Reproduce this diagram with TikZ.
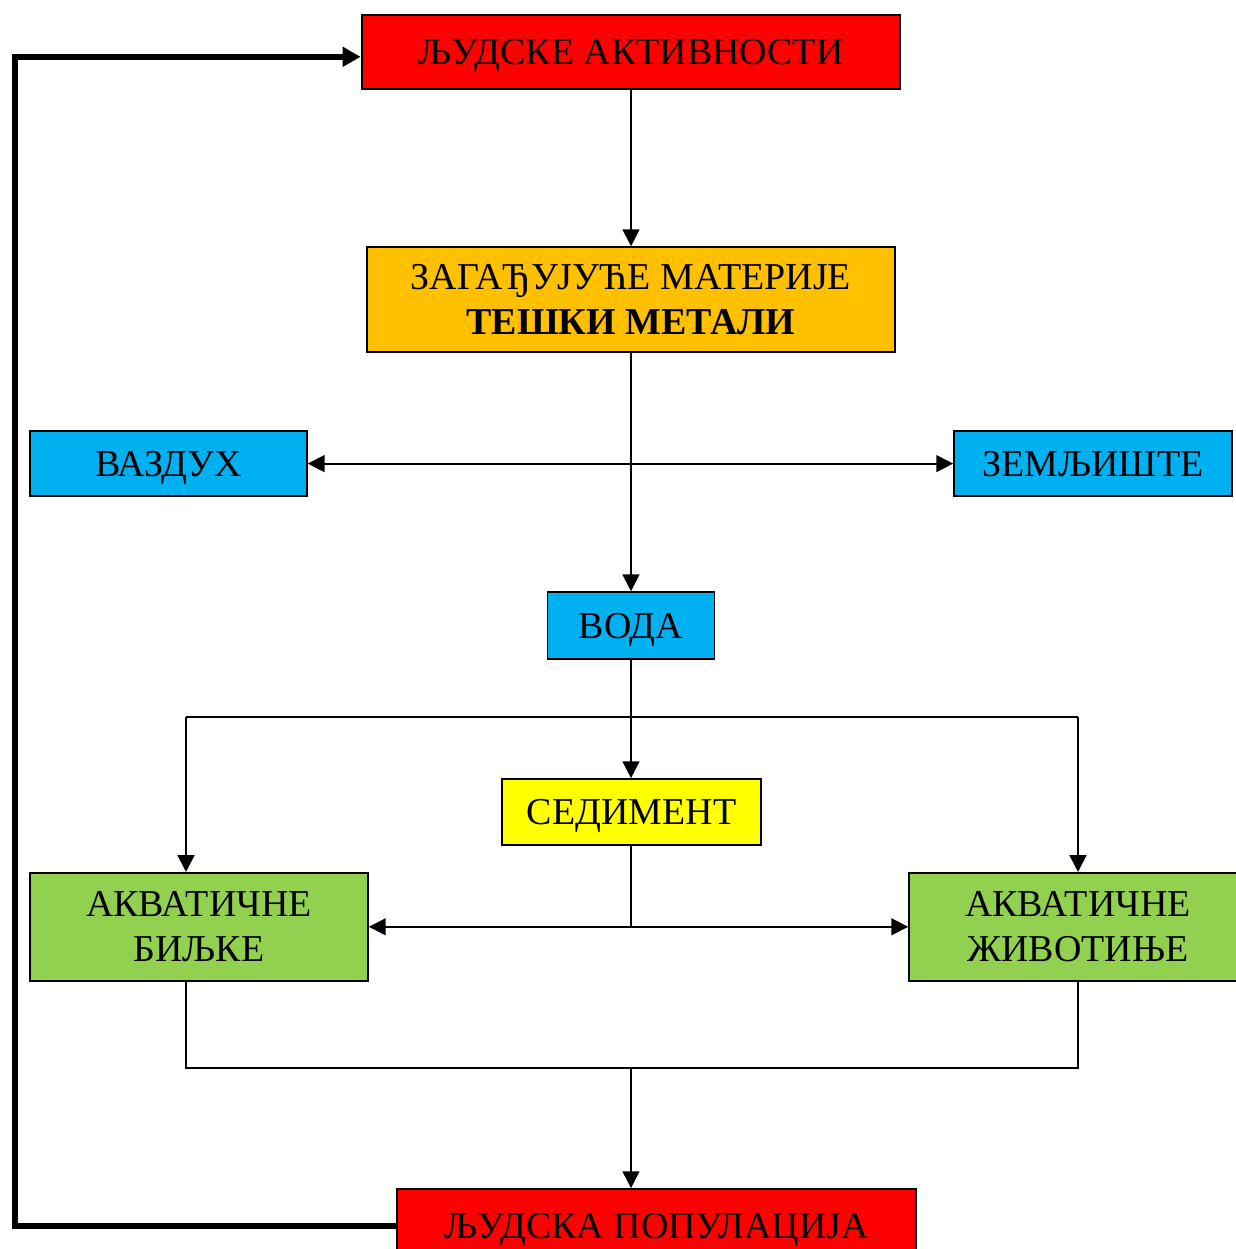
\documentclass[tikz,border=0pt]{standalone}
\usepackage{fontspec}
\setmainfont{Liberation Serif}
\usepackage{tikz}
\usetikzlibrary{arrows.meta, calc}

\definecolor{boxred}{HTML}{FF0000}
\definecolor{boxorange}{HTML}{FFC000}
\definecolor{boxblue}{HTML}{00B0F0}
\definecolor{boxyellow}{HTML}{FFFF00}
\definecolor{boxgreen}{HTML}{92D050}

\tikzset{
    box/.style={draw=black, line width=1.2pt, inner sep=0pt, align=center,
        font=\fontsize{27}{32}\selectfont},
    oneline/.style={text height=17.8pt, text depth=0pt},
    link/.style={line width=1.3pt, -{Triangle[length=0.42cm, width=0.42cm]}},
    linkboth/.style={line width=1.3pt, {Triangle[length=0.42cm, width=0.42cm]}-{Triangle[length=0.42cm, width=0.42cm]}},
    plain/.style={line width=1.3pt},
    feedback/.style={line width=4pt, -{Triangle[length=0.45cm, width=0.48cm]}}
}

\begin{document}
\begin{tikzpicture}
        \useasboundingbox (0,0) rectangle (30.9,-31.225);
        
        \node[box, oneline, fill=boxred, line width=2pt, minimum width=13.45cm, minimum height=1.85cm] (akt) at (15.775,-1.3) {ЉУДСКЕ АКТИВНОСТИ};
        \node[box, fill=boxorange, minimum width=13.2cm, minimum height=2.625cm] (zag) at (15.775,-7.49) {ЗАГАЂУЈУЋЕ МАТЕРИЈЕ\\\textbf{ТЕШКИ МЕТАЛИ}};
        \node[box, oneline, fill=boxblue, minimum width=6.925cm, minimum height=1.625cm] (vaz) at (4.21,-11.59) {ВАЗДУХ};
        \node[box, oneline, fill=boxblue, minimum width=6.95cm, minimum height=1.625cm] (zem) at (27.325,-11.59) {ЗЕМЉИШТЕ};
        \node[box, oneline, fill=boxblue, minimum width=4.175cm, minimum height=1.675cm] (voda) at (15.775,-15.64) {ВОДА};
        \node[box, oneline, fill=boxyellow, minimum width=6.475cm, minimum height=1.65cm] (sed) at (15.79,-20.3) {СЕДИМЕНТ};
        \node[box, fill=boxgreen, minimum width=8.45cm, minimum height=2.7cm] (bilj) at (4.975,-23.17) {АКВАТИЧНЕ\\БИЉКЕ};
        \node[box, fill=boxgreen, minimum width=8.45cm, minimum height=2.7cm] (ziv) at (26.95,-23.17) {АКВАТИЧНЕ\\ЖИВОТИЊЕ};
        \node[box, oneline, fill=boxred, minimum width=12.975cm, minimum height=1.85cm] (pop) at (16.41,-30.65) {ЉУДСКА ПОПУЛАЦИЈА};
        
        \draw[link] (akt) -- (zag);
        \draw[link] (zag) -- (voda);
        \draw[linkboth] (vaz) -- (zem);
        \draw[link] (voda) -- (voda |- sed.north);
        
        \coordinate (bl) at (4.65,-17.925);
        \coordinate (br) at (26.95,-17.925);
        \draw[plain] (bl) -- (br);
        \draw[link] (bl) -- (bl |- bilj.north);
        \draw[link] (br) -- (br |- ziv.north);
        
        \draw[plain] (voda |- sed.south) -- (voda |- bilj.east);
        \draw[linkboth] (bilj.east) -- (ziv.west);
        
        \coordinate (bb) at (4.65,-26.7);
        \draw[plain] (bb |- bilj.south) -- (bb) -- (bb -| ziv.south) -- (ziv.south);
        \draw[link] (bb -| voda.south) -- (pop.north -| voda.south);
        
        \coordinate (fb) at (0.38,-1.42);
        \draw[feedback] (pop.west) -- (pop.west -| fb) -- (fb) -- (fb -| akt.west);
    \end{tikzpicture}
\end{document}
